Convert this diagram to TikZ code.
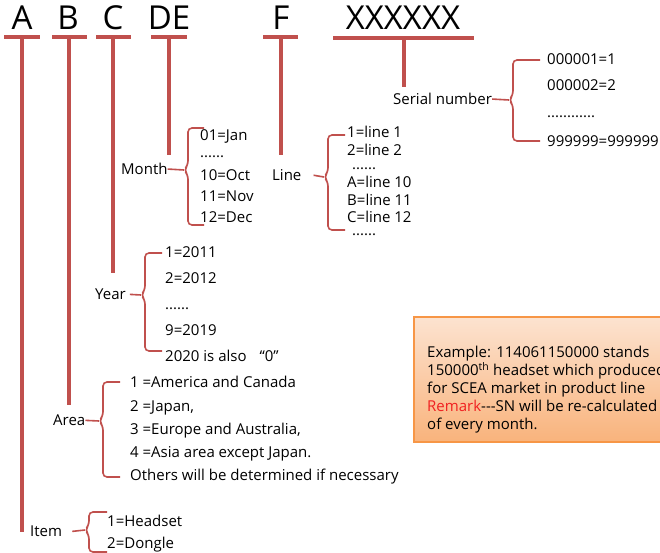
\documentclass[tikz,border=0pt]{standalone}
\usepackage{fontspec}
\setmainfont{Open Sans}
\definecolor{accred}{HTML}{C0504D}
\definecolor{boxline}{HTML}{F79646}
\definecolor{boxtop}{HTML}{FCE3D0}
\definecolor{boxbot}{HTML}{F9B37C}
\definecolor{remred}{HTML}{F02020}
\newcommand{\mybrace}[6]{% tip x, vertical x, top y, mid y, bottom y, arm x
  \draw[brc] (#6,#3) -- (#2,#3) -- (#2,#4-5) -- (#1,#4) -- (#2,#4+5) -- (#2,#5) -- (#6,#5);}
\begin{document}
\begin{tikzpicture}[x=1pt,y=-1pt,
  stem/.style={draw=accred,line width=4pt},
  brc/.style={draw=accred,line width=1.6pt,rounded corners=4pt},
  conn/.style={draw=accred,line width=1.6pt},
  lbl/.style={font=\fontsize{15}{18}\selectfont,inner sep=0pt,anchor=mid west,yshift=-2pt},
  big/.style={font=\fontsize{33}{38}\selectfont,inner sep=0pt}]
\useasboundingbox (0,0) rectangle (660,553);
\clip (0,0) rectangle (660,553);
% top letters
\node[big] (A) at (22,18) {A};
\node[big] (B) at (68,18) {B};
\node[big] (C) at (113,18) {C};
\node[big] (DE) at (169,18) {DE};
\node[big] (F) at (281,18) {F};
\node[big] (X) at (403,18) {XXXXXX};
% T bars and stems
\draw[stem] (4,37) -- (40,37); \draw[stem] (22,37) -- (22,532);
\draw[stem] (52,37) -- (87,37); \draw[stem] (69,37) -- (69,405);
\draw[stem] (96,37) -- (131,37); \draw[stem] (113,37) -- (113,273);
\draw[stem] (151,37) -- (187,37); \draw[stem] (169,37) -- (169,155);
\draw[stem] (263,37) -- (298,37); \draw[stem] (281,37) -- (281,155);
\draw[stem] (333,38) -- (474,38); \draw[stem] (404,38) -- (404,87);
% Serial number
\node[lbl] (serial) at (393,100) {Serial number};
\coordinate (sertip) at (509,100);
\draw[conn] (serial.east) -- (sertip);
\mybrace{509}{513}{60}{100}{141}{540}
\node[lbl] (s1) at (547,60) {000001=1};
\node[lbl] (s2) at (547,86) {000002=2};
\node[lbl] (s3) at (547,113) {............};
\node[lbl] (s4) at (547,142) {999999=999999};
% Month
\node[lbl] (month) at (121,170) {Month};
\coordinate (montip) at (184,170);
\draw[conn] (month.east) -- (montip);
\mybrace{184}{188}{128}{170}{225}{204}
\node[lbl] (m1) at (200,136) {01=Jan};
\node[lbl] (m2) at (200,153) {......};
\node[lbl] (m3) at (200,176) {10=Oct};
\node[lbl] (m4) at (200,197) {11=Nov};
\node[lbl] (m5) at (200,218) {12=Dec};
% Line
\node[lbl] (line) at (272,176) {Line};
\coordinate (lintip) at (324,177);
\draw[conn] ([xshift=12pt]line.east) -- (lintip);
\mybrace{324}{328}{135}{177}{230}{345}
\node[lbl] (l1) at (347,133) {1=line 1};
\node[lbl] (l2) at (347,151) {2=line 2};
\node[lbl] (l3) at (352,165) {......};
\node[lbl] (l4) at (347,183) {A=line 10};
\node[lbl] (l5) at (347,201) {B=line 11};
\node[lbl] (l6) at (347,218) {C=line 12};
\node[lbl] (l7) at (352,231) {......};
% Year
\node[lbl] (year) at (95,295) {Year};
\coordinate (yeartip) at (141,295);
\draw[conn] ([xshift=4pt]year.east) -- (yeartip);
\mybrace{141}{145}{253}{295}{351}{162}
\node[lbl] (y1) at (165,253) {1=2011};
\node[lbl] (y2) at (165,279) {2=2012};
\node[lbl] (y3) at (165,305) {......};
\node[lbl] (y4) at (165,331) {9=2019};
\node[lbl] (y5) at (165,357) {2020 is also\hspace{13pt}“0”};
% Area
\node[lbl] (area) at (53,421) {Area};
\coordinate (areatip) at (99,421);
\draw[conn] (area.east) -- (areatip);
\mybrace{99}{103}{382}{421}{477}{120}
\node[lbl] (a1) at (130,383) {1 =America and Canada};
\node[lbl] (a2) at (130,407) {2 =Japan,};
\node[lbl] (a3) at (130,430) {3 =Europe and Australia,};
\node[lbl] (a4) at (130,453) {4 =Asia area except Japan.};
\node[lbl] (a5) at (130,476) {Others will be determined if necessary};
% Item
\node[lbl] (item) at (30,532) {Item};
\coordinate (itemtip) at (85,530);
\draw[conn] ([xshift=10pt]item.east) -- (itemtip);
\mybrace{85}{89}{512}{530}{552}{107}
\node[lbl] (i1) at (107,522) {1=Headset};
\node[lbl] (i2) at (107,544) {2=Dongle};
% Example box
\path[draw=boxline,line width=1.5pt,top color=boxtop,bottom color=boxbot] (414,317) rectangle (720,442);
\node[lbl,anchor=north west,align=left,font=\fontsize{15}{18}\selectfont] (ex) at (427,344)
 {Example: 114061150000 stands\\
  150000\textsuperscript{th} headset which produced\\
  for SCEA market in product line\\
  \textcolor{remred}{Remark}-{}-{}-SN will be re-calculated\\
  of every month.};
\end{tikzpicture}
\end{document}
